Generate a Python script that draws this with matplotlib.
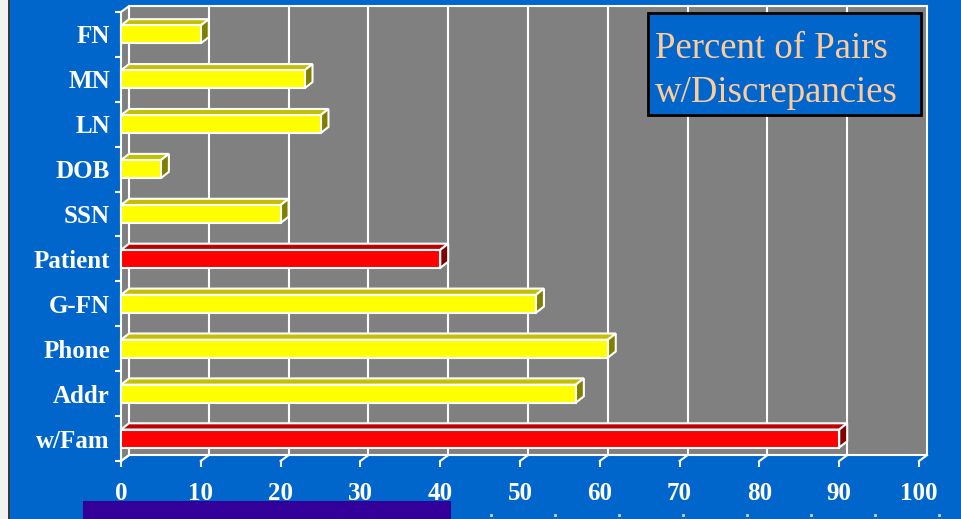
import numpy as np
import matplotlib
matplotlib.use('Agg')
import matplotlib.pyplot as plt
from matplotlib.patches import Rectangle, Polygon

# data
categories = ['FN', 'MN', 'LN', 'DOB', 'SSN', 'Patient', 'G-FN', 'Phone', 'Addr', 'w/Fam']
pct_pairs = [10, 23, 25, 5, 20, 40, 52, 61, 57, 90]
red_bars = ['Patient', 'w/Fam']
x_ticks = [0, 10, 20, 30, 40, 50, 60, 70, 80, 90, 100]
title_lines = ['Percent of Pairs', 'w/Discrepancies']

plt.rcParams['font.family'] = ['Liberation Serif', 'DejaVu Serif']

W, H = 961, 519
BLUE = '#0066CC'
GRAY = '#808080'


def fx(px):
    return px / W


def fy(py):
    return 1 - py / H


fig = plt.figure(figsize=(W / 100, H / 100), dpi=100, facecolor=BLUE)

# slide edge on the left
fig.add_artist(Rectangle((0, 0), fx(8), 1, transform=fig.transFigure,
                         facecolor='#F2F2F2', edgecolor='none'))
fig.add_artist(Rectangle((fx(8), 0), fx(2), 1, transform=fig.transFigure,
                         facecolor='#3A3A3A', edgecolor='none'))

ax = fig.add_axes([fx(121), fy(461), fx(919) - fx(121), fy(12) - fy(461)])
ax.patch.set_visible(False)
n = len(categories)
ax.set_xlim(0, 100)
ax.set_ylim(-0.5, n - 0.5)
for s in ax.spines.values():
    s.set_visible(False)

# depth of the 3d look, in data units
DX = 1.0
DY = 0.13
y0, y1 = -0.5, n - 0.5
xmax = x_ticks[-1]

# back wall + left wall
ax.add_patch(Polygon([(DX, y0 + DY), (xmax + DX, y0 + DY), (xmax + DX, y1 + DY), (DX, y1 + DY)],
                     closed=True, facecolor=GRAY, edgecolor='white', lw=1.5, clip_on=False, zorder=1))
ax.add_patch(Polygon([(0, y0), (DX, y0 + DY), (DX, y1 + DY), (0, y1)],
                     closed=True, facecolor=GRAY, edgecolor='white', lw=1.5, clip_on=False, zorder=1))

# grid on back wall and floor
for xt in x_ticks:
    if 0 < xt < xmax:
        ax.plot([xt + DX, xt + DX], [y0 + DY, y1 + DY], color='white', lw=1.5, clip_on=False, zorder=2)
    ax.plot([xt, xt + DX], [y0, y0 + DY], color='white', lw=1.5, clip_on=False, zorder=2)

# bars
h = 0.2
bdy = 0.14
for i, (cat, v) in enumerate(zip(categories, pct_pairs)):
    c = n - 1 - i
    if cat in red_bars:
        front, top, side = '#FF0000', '#C00000', '#800000'
    else:
        front, top, side = '#FFFF00', '#C4C000', '#808000'
    ax.add_patch(Polygon([(0, c + h), (v, c + h), (v + DX, c + h + bdy), (DX, c + h + bdy)],
                         closed=True, facecolor=top, edgecolor='white', lw=1.5, clip_on=False, zorder=3))
    ax.add_patch(Polygon([(v, c - h), (v + DX, c - h + bdy), (v + DX, c + h + bdy), (v, c + h)],
                         closed=True, facecolor=side, edgecolor='white', lw=1.5, clip_on=False, zorder=3))
    ax.add_patch(Rectangle((0, c - h), v, 2 * h, facecolor=front, edgecolor='white',
                           lw=1.5, clip_on=False, zorder=4))

ax.set_yticks(np.arange(n))
ax.set_yticklabels(categories[::-1])
ax.set_yticks(np.arange(-0.5, n, 1), minor=True)
ax.set_xticks(x_ticks)
ax.set_xticklabels([str(t) for t in x_ticks])
ax.tick_params(axis='y', which='major', length=0, pad=8, labelcolor='white', labelsize=18)
ax.tick_params(axis='y', which='minor', length=4.3, width=1.5, color='white')
ax.tick_params(axis='x', length=4.3, width=1.5, color='white', pad=10.5, labelcolor='white', labelsize=18)
for lbl in ax.get_xticklabels() + ax.get_yticklabels():
    lbl.set_fontweight('bold')

# title box
fig.add_artist(Rectangle((fx(648), fy(115)), fx(921) - fx(648), fy(13) - fy(115),
                         transform=fig.transFigure, facecolor=BLUE, edgecolor='black', lw=2, zorder=10))
fig.text(fx(655), fy(58), title_lines[0], color='#FFCC99', fontsize=26.5, va='baseline', zorder=11)
fig.text(fx(655), fy(102), title_lines[1], color='#FFCC99', fontsize=26.5, va='baseline', zorder=11)

# bits of the slide at the bottom
fig.add_artist(Rectangle((fx(83), 0), fx(451) - fx(83), fy(501), transform=fig.transFigure,
                         facecolor='#330099', edgecolor='none'))
for k in range(8):
    fig.add_artist(Rectangle((fx(490 + 64 * k), fy(517)), fx(3), fy(514) - fy(517),
                             transform=fig.transFigure, facecolor='#C0C0C0', edgecolor='none'))

fig.savefig('out.png', dpi=100, facecolor=BLUE)
